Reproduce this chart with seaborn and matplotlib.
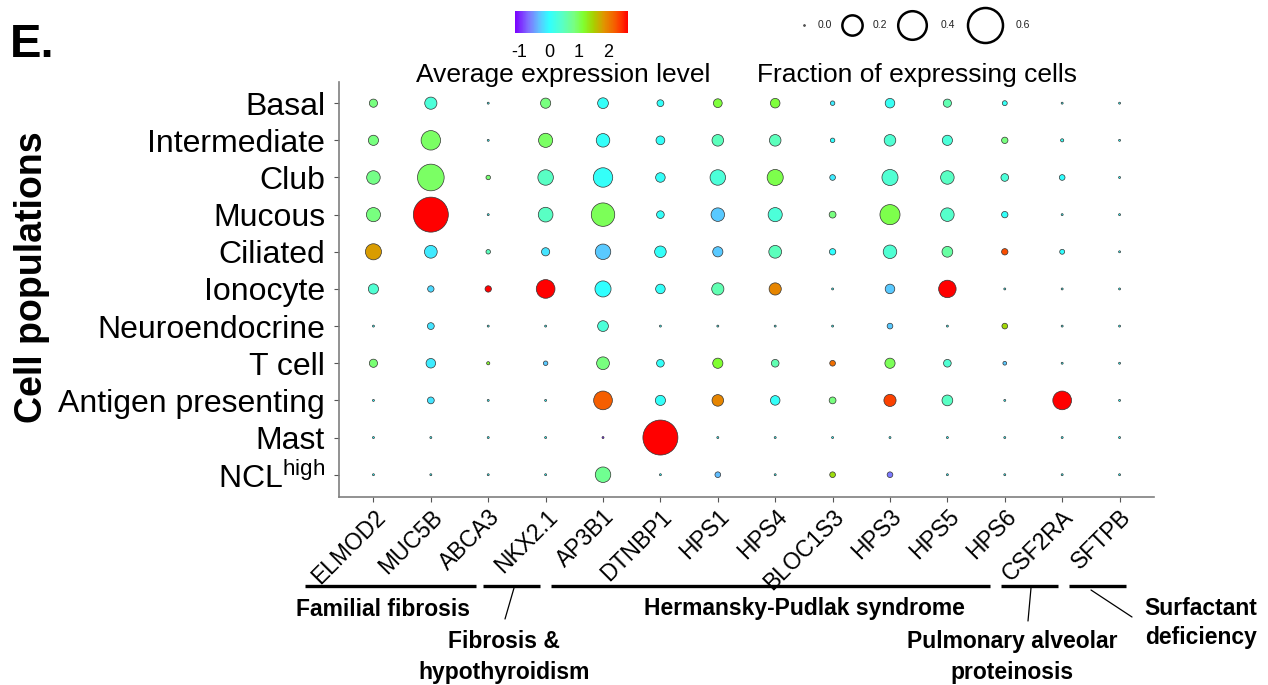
import numpy as np
import pandas as pd
import seaborn as sns
import matplotlib
matplotlib.use("Agg")
import matplotlib.pyplot as plt
from matplotlib.colors import LinearSegmentedColormap, Normalize
from matplotlib.cm import ScalarMappable

# genes on x, cell populations on y
genes = ["ELMOD2", "MUC5B", "ABCA3", "NKX2.1", "AP3B1", "DTNBP1", "HPS1",
         "HPS4", "BLOC1S3", "HPS3", "HPS5", "HPS6", "CSF2RA", "SFTPB"]
cell_types = ["Basal", "Intermediate", "Club", "Mucous", "Ciliated", "Ionocyte",
              "Neuroendocrine", "T cell", "Antigen presenting", "Mast", "NCL high"]
cell_labels = cell_types[:-1] + ["NCL$^{\\mathrm{high}}$"]

# fraction of expressing cells
frac_basal = [0.031, 0.071, 0, 0.049, 0.055, 0.021, 0.036, 0.043, 0.008, 0.043, 0.031, 0.010, 0, 0]
frac_inter = [0.049, 0.184, 0, 0.096, 0.088, 0.036, 0.064, 0.064, 0.008, 0.064, 0.049, 0.018, 0.003, 0]
frac_club = [0.088, 0.347, 0.008, 0.116, 0.184, 0.043, 0.116, 0.125, 0.014, 0.125, 0.088, 0.027, 0.014, 0]
frac_mucous = [0.096, 0.808, 0, 0.104, 0.268, 0.027, 0.088, 0.096, 0.021, 0.196, 0.088, 0.018, 0, 0]
frac_cil = [0.125, 0.078, 0.008, 0.031, 0.116, 0.064, 0.049, 0.078, 0.018, 0.088, 0.055, 0.018, 0.010, 0]
frac_iono = [0.049, 0.018, 0.018, 0.170, 0.125, 0.043, 0.071, 0.071, 0, 0.043, 0.148, 0, 0, 0]
frac_neuro = [0, 0.021, 0, 0, 0.055, 0, 0, 0, 0, 0.014, 0, 0.014, 0, 0]
frac_tcell = [0.031, 0.043, 0.003, 0.008, 0.078, 0.027, 0.049, 0.027, 0.014, 0.049, 0.027, 0.005, 0, 0]
frac_apc = [0, 0.021, 0, 0, 0.170, 0.049, 0.064, 0.043, 0.021, 0.071, 0.055, 0, 0.170, 0]
frac_mast = [0, 0, 0, 0, 0, 0.707, 0, 0, 0, 0, 0, 0, 0, 0]
frac_ncl = [0, 0, 0, 0, 0.116, 0, 0.014, 0, 0.014, 0.014, 0, 0, 0, 0]

# average expression level
expr_basal = [0.85, 0.3, 0, 0.85, 0.05, 0.05, 1.1, 1.1, -0.1, 0.1, 0.55, 0.1, 0, 0]
expr_inter = [0.85, 0.95, 0, 0.95, 0.05, 0.05, 0.5, 0.5, 0.0, 0.35, 0.3, 0.85, 0.1, 0]
expr_club = [0.8, 0.95, 0.9, 0.45, 0.05, 0.05, 0.3, 1.05, -0.1, 0.35, 0.45, 0.3, 0.0, 0]
expr_mucous = [0.85, 2.66, 0, 0.45, 1.0, 0.05, -0.3, 0.3, 0.85, 1.05, 0.4, 0.05, 0, 0]
expr_cil = [1.8, -0.12, 0.5, -0.15, -0.3, 0.05, -0.3, 0.5, 0.0, 0.35, 0.65, 2.3, 0.0, 0]
expr_iono = [0.35, -0.2, 2.66, 2.66, 0.0, 0.05, 0.55, 1.95, 0, -0.3, 2.66, 0, 0, 0]
expr_neuro = [0, -0.15, 0, 0, 0.3, 0, 0, 0, 0, -0.3, 0, 1.45, 0, 0]
expr_tcell = [0.9, -0.1, 1.2, -0.3, 0.85, 0.05, 1.15, 0.55, 2.1, 1.0, 0.35, -0.3, 0, 0]
expr_apc = [0, -0.15, 0, 0, 2.2, 0.05, 1.95, 0.05, 0.85, 2.35, 0.45, 0, 2.66, 0]
expr_mast = [0, 0, 0, 0, -1.0, 2.66, 0, 0, 0, 0, 0, 0, 0, 0]
expr_ncl = [0, 0, 0, 0, 0.75, 0, -0.35, 0, 1.4, -0.65, 0, 0, 0, 0]

frac = [frac_basal, frac_inter, frac_club, frac_mucous, frac_cil, frac_iono,
        frac_neuro, frac_tcell, frac_apc, frac_mast, frac_ncl]
expr = [expr_basal, expr_inter, expr_club, expr_mucous, expr_cil, expr_iono,
        expr_neuro, expr_tcell, expr_apc, expr_mast, expr_ncl]

size_breaks = [0.0, 0.2, 0.4, 0.6]
expr_breaks = [-1, 0, 1, 2]

rows = []
for i, ct in enumerate(cell_types):
    for j, g in enumerate(genes):
        rows.append((ct, g, frac[i][j], expr[i][j]))
df = pd.DataFrame(rows, columns=["cell", "gene", "frac", "expr"])

sns.set_style("white")
plt.rcParams["font.family"] = ["Liberation Sans", "DejaVu Sans"]
plt.rcParams["mathtext.fontset"] = "custom"
plt.rcParams["mathtext.rm"] = "Liberation Sans"
plt.rcParams["axes.unicode_minus"] = False
plt.rcParams["text.color"] = "black"
plt.rcParams["xtick.labelcolor"] = "black"
plt.rcParams["ytick.labelcolor"] = "black"

vmin, vmax = -1.15, 2.66
nodes = [(-1.15, "#7b00ff"), (-0.7, "#8070ff"), (-0.35, "#60c0ff"), (0.0, "#30ffff"),
         (0.4, "#55ffcc"), (0.85, "#78ff80"), (1.15, "#80ff30"), (1.5, "#a8d000"),
         (1.85, "#e09500"), (2.2, "#f56000"), (2.45, "#ff3000"), (2.66, "#ff0000")]
cmap = LinearSegmentedColormap.from_list(
    "expr", [((v - vmin) / (vmax - vmin), c) for v, c in nodes])
norm = Normalize(vmin, vmax)

smin, smax, fmax = 2, 635, 0.6

W, H = 1268, 685
fig = plt.figure(figsize=(W / 100, H / 100), dpi=100)


def px(x0, y0, x1, y1):
    return [x0 / W, 1 - y1 / H, (x1 - x0) / W, (y1 - y0) / H]


ax = fig.add_axes(px(339, 82, 1154, 497))
sns.scatterplot(data=df, x="gene", y="cell", hue="expr", size="frac",
                palette=cmap, hue_norm=norm, sizes=(smin, smax), size_norm=(0, fmax),
                edgecolor="#333333", linewidth=0.5, legend=False, ax=ax)
ax.set_xlim(-0.6, 13.6)
ax.set_ylim(10.6, -0.57)
ax.set_xticks(range(len(genes)))
ax.set_xticklabels(genes, rotation=45, ha="right", rotation_mode="anchor",
                   fontsize=16.5, color="black")
ax.set_yticks(range(len(cell_types)))
ax.set_yticklabels(cell_labels, fontsize=23, color="black")
ax.set_xlabel("")
ax.set_ylabel("")
sns.despine(ax=ax)
for s in ["left", "bottom"]:
    ax.spines[s].set_color("#7f7f7f")
    ax.spines[s].set_linewidth(1.2)
ax.tick_params(axis="both", length=3.5, width=0.8, color="#555555", left=True, bottom=True)
ax.tick_params(axis="y", pad=6.5)
ax.tick_params(axis="x", pad=2.5)

# overlay in pixel coordinates for legends and annotations
ov = fig.add_axes([0, 0, 1, 1])
ov.set_xlim(0, W)
ov.set_ylim(H, 0)
ov.axis("off")
ov.patch.set_alpha(0)

ov.text(10, 45, "E.", fontsize=34, fontweight="bold", va="center", ha="left")
ov.text(32, 277, "Cell populations", fontsize=27, fontweight="bold",
        rotation=90, ha="center", va="center")

# colour bar
cax = fig.add_axes(px(515, 11, 628, 33))
cb = fig.colorbar(ScalarMappable(norm=norm, cmap=cmap), cax=cax,
                  orientation="horizontal", ticks=expr_breaks)
cb.outline.set_visible(False)
cax.tick_params(direction="in", length=4, width=1, color="white",
                top=True, bottom=True, labelsize=13, pad=8, labelcolor="black")
ov.text(563, 75, "Average expression level", fontsize=19, ha="center", va="center")

# size legend
leg_x = [804, 852, 912, 985]
lab_x = [825, 880, 948, 1023]
for f, x, lx in zip(size_breaks, leg_x, lab_x):
    sz = smin + (smax - smin) * f / fmax
    ov.scatter([x], [25], s=sz, facecolor="white" if f > 0 else "#555555",
               edgecolor="black", linewidth=1.8 if f > 0 else 0.3)
    ov.text(lx, 25, f"{f:.1f}", fontsize=7.5, ha="center", va="center", color="#222222")
ov.text(917, 75, "Fraction of expressing cells", fontsize=19, ha="center", va="center")

# disease groups under the gene labels
group_lines = [(305, 476), (483, 540), (551, 990), (1001, 1058), (1069, 1126)]
for x0, x1 in group_lines:
    ov.plot([x0, x1], [586, 586], color="black", lw=2.4, solid_capstyle="butt")
leaders = [((514, 588), (505, 619)), ((1031, 588), (1028, 621)), ((1091, 590), (1132, 617))]
for (x0, y0), (x1, y1) in leaders:
    ov.plot([x0, x1], [y0, y1], color="black", lw=0.9)

bold = dict(fontsize=16.5, fontweight="bold", ha="center", va="center")
ov.text(383, 610, "Familial fibrosis", **bold)
ov.text(804, 608, "Hermansky-Pudlak syndrome", **bold)
ov.text(504, 657, "Fibrosis &\nhypothyroidism", linespacing=1.45, **bold)
ov.text(1012, 657, "Pulmonary alveolar\nproteinosis", linespacing=1.45, **bold)
ov.text(1201, 623, "Surfactant\ndeficiency", linespacing=1.35, **bold)

fig.savefig("out.png", dpi=100)
